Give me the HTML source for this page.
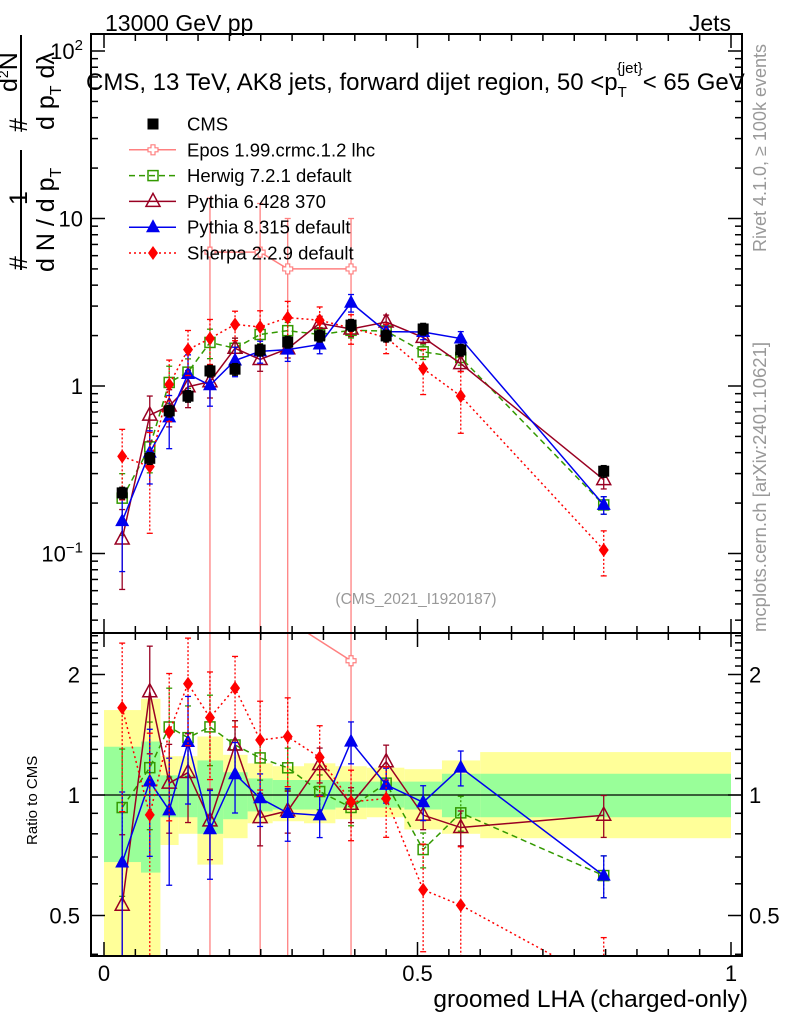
<!DOCTYPE html>
<html><head><meta charset="utf-8"><style>
body{margin:0;background:#fff;}
svg{display:block;font-family:"Liberation Sans","DejaVu Sans",sans-serif;}
</style></head><body>
<svg id="c" width="786" height="1024" viewBox="0 0 786 1024" xmlns="http://www.w3.org/2000/svg">
<defs>
<clipPath id="ctop"><rect x="91" y="34" width="651" height="599"/></clipPath>
<clipPath id="crat"><rect x="91" y="633" width="651" height="323"/></clipPath>
</defs>
<g id="bands" clip-path="url(#crat)"></g>
<g id="topmarks" clip-path="url(#ctop)"></g>
<g id="ratmarks" clip-path="url(#crat)"></g>
<g id="axes"></g>
<text x="105" y="31" font-size="23">13000 GeV pp</text>
<text x="731" y="31" font-size="23" text-anchor="end">Jets</text>
<text x="86" y="90" font-size="24">CMS, 13 TeV, AK8 jets, forward dijet region, 50 &lt;p<tspan font-size="15" dy="7">T</tspan><tspan font-size="15" dx="-10" dy="-24">{jet}</tspan><tspan dy="17">&lt; 65 GeV</tspan></text>
<text x="416" y="604" font-size="15.5" fill="#999" text-anchor="middle">(CMS_2021_I1920187)</text>
<text transform="translate(766,252) rotate(-90)" font-size="18" fill="#999">Rivet 4.1.0, ≥ 100k events</text>
<text transform="translate(766,632) rotate(-90)" font-size="18.5" fill="#999">mcplots.cern.ch [arXiv:2401.10621]</text>
<g font-size="25">
<text transform="translate(27,270) rotate(-90)">#</text>
<text transform="translate(27,205) rotate(-90)">1</text>
<line x1="21" y1="270" x2="21" y2="150" stroke="#000" stroke-width="2"/>
<text transform="translate(54,272) rotate(-90)">d N / d p<tspan font-size="16" dy="7">T</tspan></text>
<text transform="translate(27,132) rotate(-90)">#</text>
<line x1="21" y1="128" x2="21" y2="35" stroke="#000" stroke-width="2"/>
<text transform="translate(17,92) rotate(-90)">d<tspan font-size="14" dy="-9">2</tspan><tspan dy="9">N</tspan></text>
<text transform="translate(54,130) rotate(-90)">d p<tspan font-size="16" dy="7">T</tspan><tspan dy="-7"> dλ</tspan></text>
</g>
<text transform="translate(37,845) rotate(-90)" font-size="15">Ratio to CMS</text>
<text x="748" y="1007" font-size="24.5" text-anchor="end">groomed LHA (charged-only)</text>
<g id="legend"></g>
</svg>
<script>
const xs=[0.029,0.073,0.104,0.134,0.169,0.209,0.249,0.293,0.344,0.394,0.45,0.509,0.569,0.797];
const binEdges=[0,0.059,0.09,0.119,0.149,0.19,0.229,0.269,0.319,0.369,0.419,0.479,0.539,0.6,1.0];
const cms=[0.23,0.37,0.71,0.87,1.23,1.26,1.64,1.83,1.99,2.31,1.99,2.19,1.64,0.31];
const totUp=[1.63,1.74,1.25,1.25,1.40,1.26,1.20,1.18,1.20,1.18,1.17,1.16,1.22,1.28];
const totDn=[0.3,0.3,0.75,0.8,0.67,0.78,0.85,0.86,0.85,0.87,0.88,0.82,0.8,0.78];
const statUp=[1.32,1.36,1.12,1.12,1.22,1.14,1.10,1.09,1.09,1.08,1.08,1.08,1.13,1.13];
const statDn=[0.68,0.64,0.88,0.88,0.8,0.87,0.91,0.92,0.92,0.93,0.93,0.92,0.88,0.88];
const herwig=[0.214,0.433,1.05,1.21,1.82,1.68,2.03,2.14,2.03,2.15,2.13,1.60,1.48,0.195];
const herwigErr=[0.4,0.3,0.25,0.2,0.2,0.15,0.12,0.12,0.1,0.1,0.1,0.1,0.1,0.12];
const pythia6=[0.122,0.67,0.76,0.99,1.06,1.68,1.44,1.67,2.37,2.19,2.41,1.95,1.36,0.276];
const pythia6Err=[0.5,0.3,0.25,0.25,0.2,0.15,0.15,0.12,0.1,0.1,0.1,0.08,0.1,0.12];
const pythia8=[0.156,0.40,0.65,1.18,1.01,1.42,1.61,1.65,1.77,3.14,2.11,2.10,1.92,0.195];
const pythia8Err=[0.5,0.35,0.35,0.3,0.25,0.2,0.15,0.15,0.12,0.12,0.1,0.1,0.1,0.12];
const sherpa=[0.38,0.33,1.02,1.65,1.92,2.33,2.25,2.56,2.47,2.22,1.95,1.27,0.87,0.105];
const sherpaErr=[0.45,0.6,0.4,0.3,0.3,0.2,0.25,0.25,0.2,0.2,0.2,0.3,0.4,0.3];
const eposIdx=[4,6,7,9];
const epos=[6.3,6.3,5.0,5.0];
const eposUp=[2.1,1.95,2.0,2.0];
const xTicks=[0,0.5,1];
const xTickLabels=["0","0.5","1"];
const yTicks=[0.1,1,10,100];
const rTicks=[0.5,1,2];
const rTickLabels=["0.5","1","2"];

const NS="http://www.w3.org/2000/svg";
const X=v=>104+627*v;
const Y=v=>386-167.5*Math.log10(v);
const R=r=>795-120.5*Math.log2(r);
function mk(tag,attrs,parent){const e=document.createElementNS(NS,tag);for(const k in attrs)e.setAttribute(k,attrs[k]);parent.appendChild(e);return e;}
const gB=document.getElementById('bands'),gT=document.getElementById('topmarks'),gR=document.getElementById('ratmarks'),gA=document.getElementById('axes'),gL=document.getElementById('legend');

for(let i=0;i<cms.length;i++){
  const x0=X(binEdges[i]),x1=X(binEdges[i+1]);
  let r=mk('rect',{x:x0,y:R(totUp[i]),width:x1-x0,height:R(totDn[i])-R(totUp[i]),fill:'#ffff99'},gB);
  
  
}
for(let i=0;i<cms.length;i++){
  const x0=X(binEdges[i]),x1=X(binEdges[i+1]);
  let r=mk('rect',{x:x0,y:R(statUp[i]),width:x1-x0,height:R(statDn[i])-R(statUp[i]),fill:'#99ff99'},gB);
  
  
}
let ref=mk('line',{x1:91,x2:742,y1:R(1),y2:R(1),stroke:'#000','stroke-width':1.2},gB);



function marker(type,color,cx,cy,parent){
  let e;
  if(type==='sq') e=mk('rect',{x:cx-5.5,y:cy-5.5,width:11,height:11,fill:color},parent);
  else if(type==='osq') e=mk('rect',{x:cx-5,y:cy-5,width:10,height:10,fill:'none',stroke:color,'stroke-width':1.5},parent);
  else if(type==='otri') e=mk('polygon',{points:`${cx},${cy-8} ${cx-7},${cy+5} ${cx+7},${cy+5}`,fill:'none',stroke:color,'stroke-width':1.5},parent);
  else if(type==='tri') e=mk('polygon',{points:`${cx},${cy-8} ${cx-7},${cy+5} ${cx+7},${cy+5}`,fill:color},parent);
  else if(type==='dia') e=mk('polygon',{points:`${cx},${cy-7} ${cx-5},${cy} ${cx},${cy+7} ${cx+5},${cy}`,fill:color},parent);
  else e=mk('path',{d:`M${cx-2},${cy-5}h4v3h3v4h-3v3h-4v-3h-3v-4h3z`,fill:'#fff',stroke:color,'stroke-width':1.2},parent);
  return e;
}
function ebar(color,x,y1,y2,dash,parent){
  mk('line',{x1:x,x2:x,y1:y1,y2:y2,stroke:color,'stroke-width':1.3,'stroke-dasharray':dash||'none'},parent);
  mk('line',{x1:x-3,x2:x+3,y1:y1,y2:y1,stroke:color,'stroke-width':1.3},parent);
  mk('line',{x1:x-3,x2:x+3,y1:y2,y2:y2,stroke:color,'stroke-width':1.3},parent);
}
const series=[
 {name:'herwig',vals:herwig,err:herwigErr,color:'#339900',m:'osq',dash:'6,4'},
 {name:'pythia6',vals:pythia6,err:pythia6Err,color:'#990022',m:'otri',dash:''},
 {name:'pythia8',vals:pythia8,err:pythia8Err,color:'#0000ee',m:'tri',dash:''},
 {name:'sherpa',vals:sherpa,err:sherpaErr,color:'#ff0000',m:'dia',dash:'2,3'}
];
(function(){
  const c='#ff8080';
  const gt=mk('g',{},gT);
  const gr=mk('g',{},gR);
  mk('polyline',{points:eposIdx.map((k,j)=>X(xs[k])+','+Y(epos[j])).join(' '),fill:'none',stroke:c,'stroke-width':1.5},gt);
  mk('polyline',{points:eposIdx.map((k,j)=>X(xs[k])+','+R(epos[j]/cms[k])).join(' '),fill:'none',stroke:c,'stroke-width':1.5},gr);
  eposIdx.forEach((k,j)=>{
    ebar(c,X(xs[k]),Y(epos[j]*eposUp[j]),700,'',gt);
    ebar(c,X(xs[k]),R(epos[j]/cms[k]*eposUp[j]),1000,'',gr);
    const m1=marker('cross',c,X(xs[k]),Y(epos[j]),gt);
    
    
    const m2=marker('cross',c,X(xs[k]),R(epos[j]/cms[k]),gr);
    
    
  });
})();
series.forEach(s=>{
  const gt=mk('g',{},gT);
  const gr=mk('g',{},gR);
  mk('polyline',{points:s.vals.map((v,i)=>X(xs[i])+','+Y(v)).join(' '),fill:'none',stroke:s.color,'stroke-width':1.5,'stroke-dasharray':s.dash||'none'},gt);
  mk('polyline',{points:s.vals.map((v,i)=>X(xs[i])+','+R(v/cms[i])).join(' '),fill:'none',stroke:s.color,'stroke-width':1.5,'stroke-dasharray':s.dash||'none'},gr);
  s.vals.forEach((v,i)=>{
    const e=s.err[i];
    ebar(s.color,X(xs[i]),Y(v*(1+e)),Y(Math.max(v*(1-e),1e-4)),s.dash?'2,2':'',gt);
    const r=v/cms[i];
    ebar(s.color,X(xs[i]),R(r*(1+e)),R(Math.max(r*(1-e),1e-3)),s.dash?'2,2':'',gr);
    const m1=marker(s.m,s.color,X(xs[i]),Y(v),gt);
    
    
    const m2=marker(s.m,s.color,X(xs[i]),R(r),gr);
    
    
  });
});
cms.forEach((v,i)=>{
  ebar('#000',X(xs[i]),Y(v*1.08),Y(v*0.92),'',gT);
  const m=marker('sq','#000',X(xs[i]),Y(v),gT);
  
  
});

const fr1=mk('rect',{x:91,y:34,width:651,height:599,fill:'none',stroke:'#000','stroke-width':2},gA);


const fr2=mk('rect',{x:91,y:633,width:651,height:323,fill:'none',stroke:'#000','stroke-width':2},gA);


for(let k=0;k<=20;k++){
  const v=k*0.05,x=X(v),L=(k%10===0)?14:7;
  mk('line',{x1:x,x2:x,y1:956,y2:956-L,stroke:'#000','stroke-width':1.5},gA);
  mk('line',{x1:x,x2:x,y1:633,y2:633-L,stroke:'#000','stroke-width':1.5},gA);
  mk('line',{x1:x,x2:x,y1:34,y2:34+L,stroke:'#000','stroke-width':1.5},gA);
  mk('line',{x1:x,x2:x,y1:633,y2:633+L,stroke:'#000','stroke-width':1.5},gA);
}
xTicks.forEach((v,i)=>{
  const t=mk('text',{x:X(v),y:981,'font-size':22,'text-anchor':'middle'},gA);
  t.textContent=xTickLabels[i];
  
  
});
for(let d=-2;d<=2;d++){for(let m=1;m<10;m++){
  const v=m*Math.pow(10,d),y=Y(v);
  if(y<34||y>633)continue;
  const L=m===1?14:7;
  mk('line',{x1:91,x2:91+L,y1:y,y2:y,stroke:'#000','stroke-width':1.5},gA);
  mk('line',{x1:742,x2:742-L,y1:y,y2:y,stroke:'#000','stroke-width':1.5},gA);
}}
yTicks.forEach(v=>{
  const y=Y(v);
  const t=mk('text',{x:83,y:y+8,'font-size':22,'text-anchor':'end'},gA);
  
  
  if(v===10) t.textContent='10';
  else if(v===1) t.textContent='1';
  else {t.textContent='10';const s=mk('tspan',{'font-size':15,dy:-9},t);s.textContent=v===100?'2':'−1';}
});
for(let r=0.4;r<=2.6;r+=0.1){
  const rr=Math.round(r*10)/10,y=R(rr);
  if(y<633||y>956)continue;
  const L=(rr===0.5||rr===1||rr===2)?14:7;
  mk('line',{x1:91,x2:91+L,y1:y,y2:y,stroke:'#000','stroke-width':1.5},gA);
  mk('line',{x1:742,x2:742-L,y1:y,y2:y,stroke:'#000','stroke-width':1.5},gA);
}
rTicks.forEach((v,i)=>{
  const t=mk('text',{x:80,y:R(v)+8,'font-size':22,'text-anchor':'end'},gA);
  t.textContent=rTickLabels[i];
  
  
  const t2=mk('text',{x:749,y:R(v)+8,'font-size':22},gA);
  t2.textContent=rTickLabels[i];
  
  
});
const leg=[['CMS','#000','sq',''],['Epos 1.99.crmc.1.2 lhc','#ff8080','cross',''],['Herwig 7.2.1 default','#339900','osq','6,4'],['Pythia 6.428 370','#990022','otri',''],['Pythia 8.315 default','#0000ee','tri',''],['Sherpa 2.2.9 default','#ff0000','dia','2,3']];
leg.forEach((l,i)=>{
  const y=124+i*25.8;
  const g=mk('g',{},gL);
  
  
  if(i>0) mk('line',{x1:129,x2:176,y1:y,y2:y,stroke:l[1],'stroke-width':1.5,'stroke-dasharray':l[3]||'none'},g);
  marker(l[2],l[1],153,y,g);
  const t=mk('text',{x:187,y:y+6.5,'font-size':18.5},g);
  t.textContent=l[0];
});
</script>
</body></html>
